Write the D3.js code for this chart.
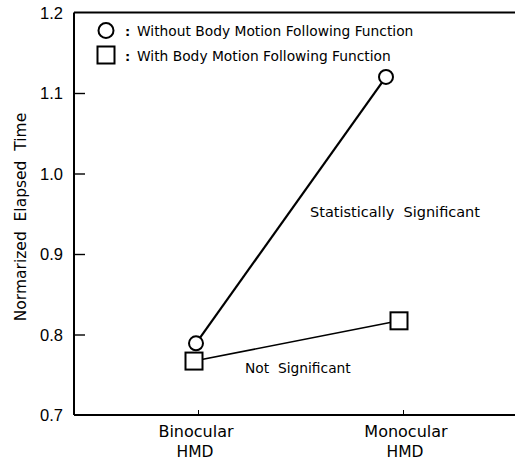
<!DOCTYPE html>
<html><head><meta charset="utf-8">
<script src="https://cdn.jsdelivr.net/npm/d3@7"></script>
<style>body{margin:0;background:#fff}svg{display:block}</style>
</head><body>
<svg id="c" width="515" height="462"></svg>
<script>
const categories = ["Binocular HMD", "Monocular HMD"];
const categoryLines = [["Binocular", "HMD"], ["Monocular", "HMD"]];
const seriesNames = ["Without Body Motion Following Function", "With Body Motion Following Function"];
const withoutValues = [0.789, 1.120];
const withValues = [0.767, 0.817];
const yTicks = [0.7, 0.8, 0.9, 1.0, 1.1, 1.2];
const annotations = ["Statistically  Significant", "Not  Significant"];
const yTitle = "Normarized  Elapsed  Time";

const svg = d3.select("#c");
const L = 74, R = 515, T = 12.5, B = 415;
const x = d3.scalePoint().domain(categories).range([196, 401]);
const y = d3.scaleLinear().domain([0.7, 1.2]).range([B, T]);

// marker x offsets (style only)
const offCircle = [0, -15], offSquare = [-2, -2];

// y axis with inward ticks
const yAxis = d3.axisLeft(y).tickValues(yTicks).tickFormat(d3.format(".1f")).tickSize(-11).tickPadding(11);
const gy = svg.append("g").attr("transform", `translate(${L},0)`).call(yAxis);
gy.select(".domain").remove();
gy.selectAll(".tick line").attr("stroke", "#000").attr("stroke-width", 1.4);
gy.selectAll(".tick").filter(d => d === 0.7 || d === 1.2).select("line").remove();
gy.selectAll(".tick text").attr("font-family", "Liberation Sans, Arial, sans-serif").attr("font-size", 16.5).attr("fill", "#000").attr("dy", "0.35em");

// x axis
const xAxis = d3.axisBottom(x).tickSize(-5).tickFormat("");
const gx = svg.append("g").attr("transform", `translate(2,${B})`).call(xAxis);
gx.select(".domain").remove();
gx.selectAll(".tick line").attr("stroke", "#000").attr("stroke-width", 1);

// frame lines
svg.append("line").attr("x1", L).attr("x2", L).attr("y1", T).attr("y2", B).attr("stroke", "#000").attr("stroke-width", 2);
svg.append("line").attr("x1", L).attr("x2", R).attr("y1", B).attr("y2", B).attr("stroke", "#000").attr("stroke-width", 2);
svg.append("line").attr("x1", L).attr("x2", R).attr("y1", T).attr("y2", T).attr("stroke", "#000").attr("stroke-width", 2);

const fa = "DejaVu Sans, Verdana, sans-serif";

// x category labels
categoryLines.forEach((lines, i) => {
  const cx = x(categories[i]) + (i === 0 ? 0 : 5);
  svg.append("text").attr("x", cx).attr("y", 437).attr("text-anchor", "middle")
    .attr("font-family", fa).attr("font-size", 16).text(lines[0]);
  svg.append("text").attr("x", cx - 1).attr("y", 457).attr("text-anchor", "middle")
    .attr("font-family", fa).attr("font-size", 15.5).text(lines[1]);
});

// y title
svg.append("text").attr("transform", "translate(26,217) rotate(-90)").attr("text-anchor", "middle")
  .attr("font-family", fa).attr("font-size", 15.5)
  .style("white-space", "pre").text(yTitle);

// lines
const rC = 7, sq = 17;
const ptsC = withoutValues.map((v, i) => [x(categories[i]) + offCircle[i], y(v)]);
const ptsS = withValues.map((v, i) => [x(categories[i]) + offSquare[i], y(v)]);
svg.append("path").attr("d", d3.line()(ptsC)).attr("fill", "none").attr("stroke", "#000").attr("stroke-width", 2.2);
svg.append("path").attr("d", d3.line()(ptsS)).attr("fill", "none").attr("stroke", "#000").attr("stroke-width", 1.6);

// markers
svg.selectAll("circle.m").data(ptsC).join("circle").attr("class", "m")
  .attr("cx", d => d[0]).attr("cy", d => d[1]).attr("r", rC)
  .attr("fill", "#fff").attr("stroke", "#000").attr("stroke-width", 2);
svg.selectAll("rect.m").data(ptsS).join("rect").attr("class", "m")
  .attr("x", d => d[0] - sq / 2).attr("y", d => d[1] - sq / 2).attr("width", sq).attr("height", sq)
  .attr("fill", "#fff").attr("stroke", "#000").attr("stroke-width", 2);

// annotations
svg.append("text").attr("x", 310).attr("y", 217).attr("font-family", fa).attr("font-size", 14.5)
  .style("white-space", "pre").text(annotations[0]);
svg.append("text").attr("x", 245).attr("y", 373).attr("font-family", fa).attr("font-size", 13.8)
  .style("white-space", "pre").text(annotations[1]);

// legend
svg.append("circle").attr("cx", 106).attr("cy", 30.5).attr("r", 7.5).attr("fill", "#fff").attr("stroke", "#000").attr("stroke-width", 2);
svg.append("rect").attr("x", 97.5).attr("y", 46.5).attr("width", 17).attr("height", 17).attr("fill", "#fff").attr("stroke", "#000").attr("stroke-width", 2);
seriesNames.forEach((s, i) => {
  const yy = 35.5 + i * 25;
  svg.append("text").attr("x", 125).attr("y", yy).attr("font-family", fa).attr("font-size", 13).attr("font-weight", "bold").text(":");
  svg.append("text").attr("x", 137).attr("y", yy).attr("font-family", fa).attr("font-size", 13.8).text(s);
});
</script>
</body></html>
